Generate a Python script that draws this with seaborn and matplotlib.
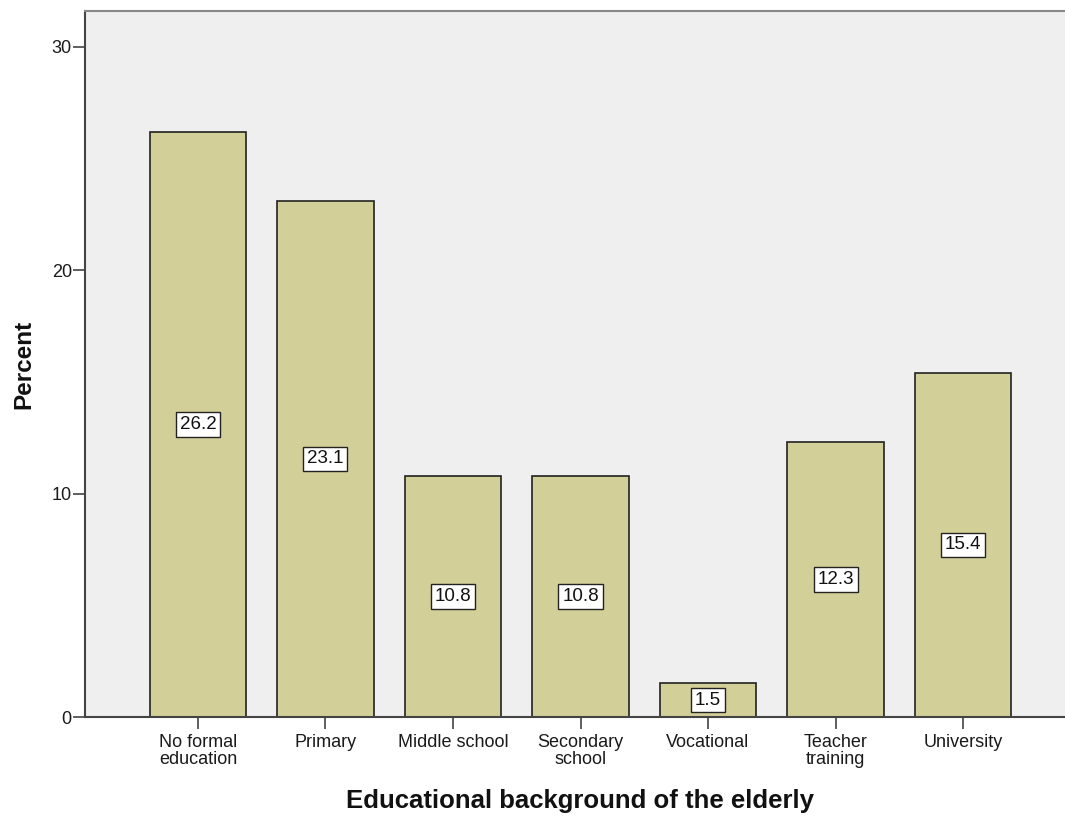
import matplotlib
matplotlib.use("Agg")
import matplotlib.pyplot as plt
import seaborn as sns
import pandas as pd

categories = ["No formal\neducation", "Primary", "Middle school", "Secondary\nschool",
              "Vocational", "Teacher\ntraining", "University"]
percent = [26.2, 23.1, 10.8, 10.8, 1.5, 12.3, 15.4]
y_ticks = [0, 10, 20, 30]

BAR_COLOR = "#d3cf98"
BG_COLOR = "#efefef"

sns.set_theme(style="white")
plt.rcParams["font.family"] = ["Liberation Sans", "DejaVu Sans"]

df = pd.DataFrame({"category": categories, "percent": percent})

fig = plt.figure(figsize=(10.65, 8.17), dpi=100)
# axes run slightly past the right edge, as in the cropped original
ax = fig.add_axes([85 / 1065, 100 / 817, 991 / 1065, 706 / 817])
ax.set_facecolor(BG_COLOR)

sns.barplot(data=df, x="category", y="percent", color=BAR_COLOR, width=0.76,
            edgecolor="#222222", linewidth=1.2, saturation=1, ax=ax)

for i, v in enumerate(percent):
    ax.text(i, v / 2, f"{v}", ha="center", va="center", fontsize=13.5, color="#111111",
            bbox=dict(boxstyle="square,pad=0.2", facecolor="white",
                      edgecolor="#222222", linewidth=1.0))

ax.set_xlim(-0.886, 6.886)
ax.set_ylim(0, 31.6)
ax.set_yticks(y_ticks)
ax.set_yticklabels([str(t) for t in y_ticks])

for side in ["left", "bottom"]:
    ax.spines[side].set_color("#444444")
    ax.spines[side].set_linewidth(1.5)
ax.spines["top"].set_color("#888888")
ax.spines["top"].set_linewidth(1.5)
ax.spines["right"].set_visible(False)

ax.tick_params(axis="both", which="both", direction="out", length=8.5, width=1.2,
               color="#444444", labelsize=13, labelcolor="#1a1a1a",
               left=True, bottom=True)
ax.tick_params(axis="y", pad=1)
ax.tick_params(axis="x", pad=4)
for lbl in ax.get_xticklabels():
    lbl.set_linespacing(1.0)

ax.set_xlabel("Educational background of the elderly", fontsize=18.5,
              fontweight="bold", labelpad=15, color="#111111")
ax.set_ylabel("Percent", fontsize=17.5, fontweight="bold", labelpad=12,
              color="#111111")

fig.savefig("out.png", dpi=100)
